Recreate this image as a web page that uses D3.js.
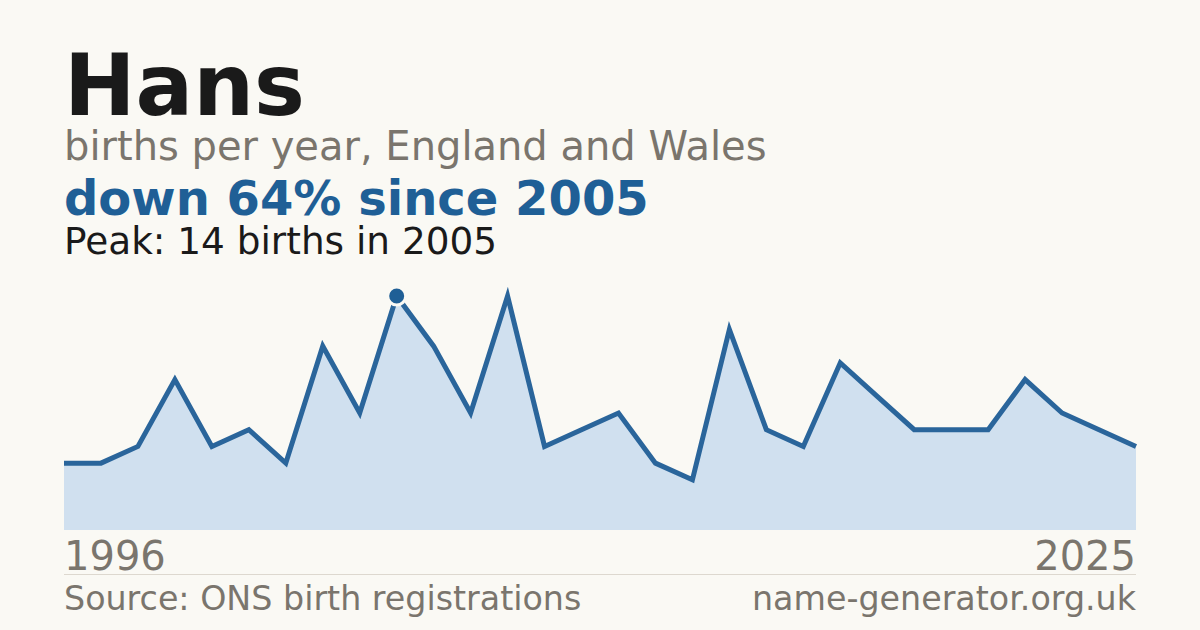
<!DOCTYPE html>
<html>
<head>
<meta charset="utf-8">
<script src="https://cdn.jsdelivr.net/npm/d3@7"></script>
<style>
  html, body { margin: 0; padding: 0; background: #faf9f4; }
  svg { display: block; font-family: "DejaVu Sans", sans-serif; }
</style>
</head>
<body>
<script>
// births per year for "Hans", 1996-2025
const years = d3.range(1996, 2026);
const births = [4, 4, 5, 9, 5, 6, 4, 11, 7, 14, 11, 7, 14, 5, 6, 7, 4, 3, 12, 6, 5, 10, 8, 6, 6, 6, 9, 7, 6, 5];

const name = 'Hans';
const subtitle = 'births per year, England and Wales';
const source = 'Source: ONS birth registrations';
const site = 'name-generator.org.uk';

const outerW = 1200,
      outerH = 630;

const margin = { left: 64, right: 64, top: 296, bottom: 100 };
const w = outerW - margin.left - margin.right;
const h = outerH - margin.top - margin.bottom;

const data = years.map((y, i) => ({ year: y, value: births[i] }));
const peak = data.reduce((a, b) => (b.value > a.value ? b : a));
const last = data[data.length - 1];
const change = Math.round((1 - last.value / peak.value) * 100);

const svg = d3.select('body').append('svg')
    .attr('width', outerW)
    .attr('height', outerH);

svg.append('rect')
    .attr('width', outerW)
    .attr('height', outerH)
    .attr('fill', '#faf9f4');

const x = d3.scaleLinear()
    .domain(d3.extent(years))
    .range([0, w]);

const y = d3.scaleLinear()
    .domain([0, peak.value])
    .range([h, 0]);

const g = svg.append('g')
    .attr('transform', `translate(${margin.left},${margin.top})`);

const area = d3.area()
    .x(d => x(d.year))
    .y0(h)
    .y1(d => y(d.value));

const line = d3.line()
    .x(d => x(d.year))
    .y(d => y(d.value));

g.append('path')
    .datum(data)
    .attr('d', area)
    .attr('fill', '#d0e0ef');

g.append('path')
    .datum(data)
    .attr('d', line)
    .attr('fill', 'none')
    .attr('stroke', '#2a659b')
    .attr('stroke-width', 5)
    .attr('stroke-linejoin', 'miter');

g.append('circle')
    .attr('cx', x(peak.year))
    .attr('cy', y(peak.value))
    .attr('r', 9)
    .attr('fill', '#1f5f96')
    .attr('stroke', '#faf9f4')
    .attr('stroke-width', 3);

// headings
svg.append('text')
    .attr('x', 64).attr('y', 115)
    .attr('font-size', 85.5).attr('font-weight', 'bold')
    .attr('fill', '#1a1a1a')
    .text(name);

svg.append('text')
    .attr('x', 64).attr('y', 160)
    .attr('font-size', 40)
    .attr('fill', '#7a756d')
    .text(subtitle);

svg.append('text')
    .attr('x', 64).attr('y', 215)
    .attr('font-size', 48).attr('font-weight', 'bold')
    .attr('fill', '#1f5f96')
    .text(`down ${change}% since ${peak.year}`);

svg.append('text')
    .attr('x', 64).attr('y', 254)
    .attr('font-size', 37.4)
    .attr('fill', '#1a1a1a')
    .text(`Peak: ${peak.value} births in ${peak.year}`);

// year labels
svg.append('text')
    .attr('x', margin.left).attr('y', 570)
    .attr('font-size', 40)
    .attr('fill', '#7a756d')
    .text(years[0]);

svg.append('text')
    .attr('x', margin.left + w).attr('y', 570)
    .attr('text-anchor', 'end')
    .attr('font-size', 40)
    .attr('fill', '#7a756d')
    .text(years[years.length - 1]);

svg.append('line')
    .attr('x1', margin.left).attr('x2', margin.left + w)
    .attr('y1', 574.5).attr('y2', 574.5)
    .attr('stroke', '#ddd8cf')
    .attr('stroke-width', 1);

// footer
svg.append('text')
    .attr('x', 64).attr('y', 610)
    .attr('font-size', 33.3)
    .attr('fill', '#7a756d')
    .text(source);

svg.append('text')
    .attr('x', margin.left + w).attr('y', 610)
    .attr('text-anchor', 'end')
    .attr('font-size', 33.3)
    .attr('fill', '#7a756d')
    .text(site);
</script>
</body>
</html>
